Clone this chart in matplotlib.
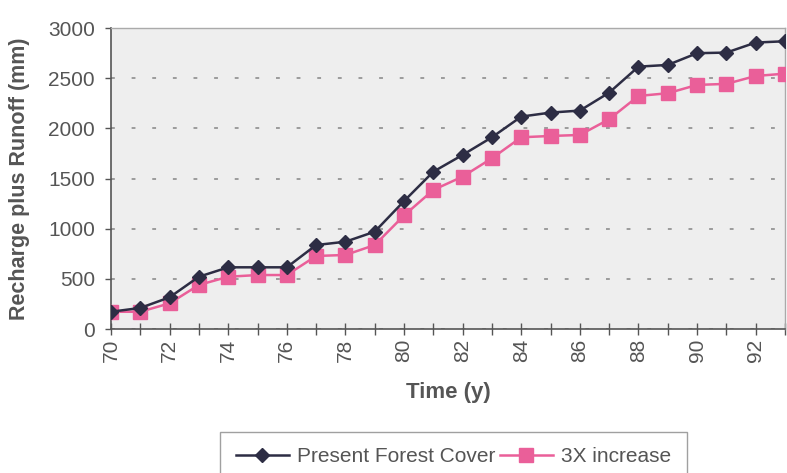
import matplotlib
matplotlib.use("Agg")
import matplotlib.pyplot as plt
from matplotlib.ticker import MultipleLocator

# Years and cumulative recharge plus runoff (mm)
years = list(range(70, 94))
present_forest = [172, 210, 316, 521, 615, 615, 615, 837, 870, 970, 1275, 1568,
                  1735, 1911, 2117, 2157, 2177, 2356, 2615, 2632, 2749, 2755,
                  2855, 2868]
increase_3x = [172, 172, 256, 439, 521, 538, 538, 728, 738, 837, 1132, 1386,
               1519, 1702, 1911, 1924, 1934, 2091, 2323, 2350, 2433, 2443,
               2522, 2545]

series_labels = ["Present Forest Cover", "3X increase"]
x_ticks = list(range(70, 94, 2))
y_ticks = [0, 500, 1000, 1500, 2000, 2500, 3000]

plt.rcParams["font.family"] = ["Liberation Sans", "DejaVu Sans"]

fig = plt.figure(figsize=(7.87, 4.73), dpi=100)
ax = fig.add_axes([0.141, 0.3044, 0.8565, 0.6364])
ax.set_facecolor("#eeeeee")

ax.plot(years, present_forest, color="#2d2d44", lw=1.8, marker="D",
        markersize=7.5, markerfacecolor="#2d2d44", markeredgecolor="#2d2d44",
        label=series_labels[0], zorder=4)
ax.plot(years, increase_3x, color="#ea5f99", lw=1.8, marker="s",
        markersize=9.5, markerfacecolor="#ea5f99", markeredgecolor="#ea5f99",
        label=series_labels[1], zorder=3)

ax.set_xlim(70, 93)
ax.set_ylim(0, 3000)
ax.set_xticks(x_ticks)
ax.xaxis.set_minor_locator(MultipleLocator(1))
ax.set_yticks(y_ticks)
ax.grid(axis="y", color="#858585", linestyle=(0, (2.5, 11)), lw=1.1)
ax.set_axisbelow(True)

ax.tick_params(axis="x", which="both", direction="inout", length=8,
               width=1, color="#555555", labelrotation=90, labelsize=15,
               labelcolor="#555555", pad=3)
ax.tick_params(axis="y", which="major", direction="out", length=4.5, width=1,
               color="#555555", labelsize=15, labelcolor="#555555", pad=7)

for side in ("left", "bottom"):
    ax.spines[side].set_color("#555555")
    ax.spines[side].set_linewidth(1.2)
for side in ("top", "right"):
    ax.spines[side].set_color("#aaaaaa")
    ax.spines[side].set_linewidth(1.0)

ax.set_xlabel("Time (y)", fontsize=16, fontweight="bold", color="#555555",
              labelpad=14)
ax.set_ylabel("Recharge plus Runoff (mm)", fontsize=15.5, fontweight="bold",
              color="#555555", labelpad=13)

leg = fig.legend(loc="upper center", bbox_to_anchor=(0.576, 0.087), ncol=2,
                 fontsize=15, frameon=True, fancybox=False, handlelength=2.55,
                 handletextpad=0.4, columnspacing=0.2, borderpad=0.75,
                 borderaxespad=0)
leg.get_frame().set_edgecolor("#888888")
leg.get_frame().set_linewidth(1.0)
for t in leg.get_texts():
    t.set_color("#555555")

fig.savefig("out.png", dpi=100)
